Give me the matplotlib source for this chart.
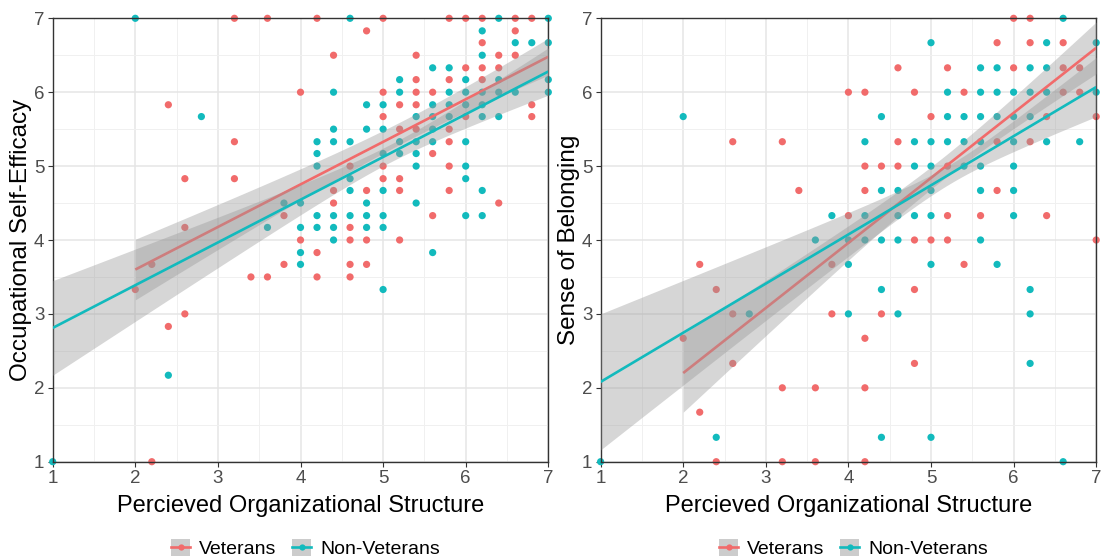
import numpy as np
import matplotlib
matplotlib.use("Agg")
import matplotlib.pyplot as plt
from matplotlib.patches import Rectangle
from matplotlib.lines import Line2D
from matplotlib.legend_handler import HandlerTuple
from matplotlib.ticker import MultipleLocator

plt.rcParams['font.family'] = ['Liberation Sans', 'DejaVu Sans']

# ---------------- data ----------------
groups = ["Veterans", "Non-Veterans"]
x_label = "Percieved Organizational Structure"
y_labels = ["Occupational Self-Efficacy", "Sense of Belonging"]
tick_values = [1, 2, 3, 4, 5, 6, 7]

# Panel 1: Occupational Self-Efficacy
ose_vet_x = [3.2, 3.6, 4.2, 5.0, 5.8, 6.0, 6.2, 6.6, 6.8, 4.8, 6.6, 6.2, 4.4, 5.4, 6.4, 6.6,
             6.0, 6.2, 6.4, 5.4, 5.8, 6.2, 4.0, 5.0, 5.4, 5.6, 2.4, 5.2, 5.4, 6.8, 5.0, 6.0, 6.8,
             5.2, 5.4, 5.8, 3.2, 5.8, 5.6, 4.6, 5.0, 5.8, 2.6, 3.2, 5.0, 5.2, 4.4, 4.8, 5.2, 5.8,
             4.4, 6.4, 3.8, 5.6, 2.6, 4.6, 4.0, 4.6, 4.8, 5.2, 4.2, 2.2, 3.8, 4.6, 4.8,
             3.4, 3.6, 4.2, 4.6, 2.0, 2.6, 2.4, 2.2]
ose_vet_y = [7, 7, 7, 7, 7, 7, 7, 7, 7, 6.83, 6.83, 6.67, 6.5, 6.5, 6.5, 6.5,
             6.33, 6.33, 6.33, 6.17, 6.17, 6.17, 6, 6, 6, 6, 5.83, 5.83, 5.83, 5.83, 5.67, 5.67, 5.67,
             5.5, 5.5, 5.5, 5.33, 5.33, 5.17, 5, 5, 5, 4.83, 4.83, 4.83, 4.83, 4.67, 4.67, 4.67, 4.67,
             4.5, 4.5, 4.33, 4.33, 4.17, 4.17, 4, 4, 4, 4, 3.83, 3.67, 3.67, 3.67, 3.67,
             3.5, 3.5, 3.5, 3.5, 3.33, 3.0, 2.83, 1.0]
ose_non_x = [2.0, 4.6, 6.4, 7.0, 6.2, 6.6, 6.8, 7.0, 6.2, 5.6, 5.8, 5.2, 6.0, 6.4, 7.0,
             4.4, 5.2, 5.8, 6.0, 6.2, 6.4, 6.6, 7.0, 4.8, 5.0, 5.6, 5.8, 6.0, 6.2,
             2.8, 5.4, 5.6, 5.8, 6.2, 6.4, 4.4, 4.8, 5.0, 5.6, 4.2, 4.4, 4.6, 5.2, 5.4, 5.6, 6.0,
             4.2, 5.0, 5.2, 5.4, 4.2, 5.4, 6.0, 4.6, 6.0, 4.6, 5.0, 6.2, 3.8, 4.0, 4.8, 5.4,
             4.2, 4.4, 4.6, 4.8, 5.0, 6.0, 6.2, 3.6, 4.0, 4.2, 4.4, 4.8, 5.0, 4.4, 4.0, 5.6,
             4.0, 5.0, 2.4, 1.0]
ose_non_y = [7, 7, 7, 7, 6.83, 6.67, 6.67, 6.67, 6.5, 6.33, 6.33, 6.17, 6.17, 6.17, 6.17,
             6, 6, 6, 6, 6, 6, 6, 6, 5.83, 5.83, 5.83, 5.83, 5.83, 5.83,
             5.67, 5.67, 5.67, 5.67, 5.67, 5.67, 5.5, 5.5, 5.5, 5.5, 5.33, 5.33, 5.33, 5.33, 5.33, 5.33, 5.33,
             5.17, 5.17, 5.17, 5.17, 5, 5, 5, 4.83, 4.83, 4.67, 4.67, 4.67, 4.5, 4.5, 4.5, 4.5,
             4.33, 4.33, 4.33, 4.33, 4.33, 4.33, 4.33, 4.17, 4.17, 4.17, 4.17, 4.17, 4.17, 4.0, 3.83, 3.83,
             3.67, 3.33, 2.17, 1.0]

# Panel 2: Sense of Belonging
sob_vet_x = [6.0, 6.2, 5.8, 6.2, 6.6, 4.6, 5.2, 6.0, 6.6, 6.8, 4.0, 4.2, 4.8, 5.4, 6.6, 6.8,
             5.0, 6.4, 7.0, 2.6, 3.2, 4.6, 5.8, 6.2, 4.2, 4.4, 4.6, 5.2, 3.4, 4.2, 5.8,
             4.0, 5.2, 5.6, 6.4, 4.8, 5.0, 5.2, 7.0, 2.2, 3.8, 5.4, 2.4, 4.8, 2.6, 3.8, 4.4,
             2.0, 4.2, 2.6, 4.8, 3.2, 3.6, 4.2, 2.2, 2.4, 3.2, 3.6, 4.2]
sob_vet_y = [7, 7, 6.67, 6.67, 6.67, 6.33, 6.33, 6.33, 6.33, 6.33, 6, 6, 6, 6, 6, 6,
             5.67, 5.67, 5.67, 5.33, 5.33, 5.33, 5.33, 5.33, 5, 5, 5, 5, 4.67, 4.67, 4.67,
             4.33, 4.33, 4.33, 4.33, 4, 4, 4, 4, 3.67, 3.67, 3.67, 3.33, 3.33, 3, 3, 3,
             2.67, 2.67, 2.33, 2.33, 2, 2, 2, 1.67, 1, 1, 1, 1]
sob_non_x = [6.6, 5.0, 6.4, 7.0, 5.6, 5.8, 6.2, 6.4, 5.2, 5.6, 5.8, 6.0, 6.2, 6.4, 7.0,
             2.0, 4.4, 5.2, 5.4, 5.6, 5.8, 6.0, 6.2, 4.2, 4.8, 5.0, 5.2, 5.4, 5.6, 6.0, 6.4, 6.8,
             4.8, 5.0, 5.4, 5.6, 6.0, 4.4, 4.6, 5.0, 5.6, 6.0, 3.8, 4.2, 4.6, 4.8, 5.0, 6.0,
             3.6, 4.0, 4.2, 4.4, 4.6, 5.6, 4.0, 5.0, 5.8, 4.4, 6.2, 2.8, 4.0, 4.6, 6.2,
             6.2, 2.4, 4.4, 5.0, 1.0, 6.6]
sob_non_y = [7, 6.67, 6.67, 6.67, 6.33, 6.33, 6.33, 6.33, 6, 6, 6, 6, 6, 6, 6,
             5.67, 5.67, 5.67, 5.67, 5.67, 5.67, 5.67, 5.67, 5.33, 5.33, 5.33, 5.33, 5.33, 5.33, 5.33, 5.33, 5.33,
             5, 5, 5, 5, 5, 4.67, 4.67, 4.67, 4.67, 4.67, 4.33, 4.33, 4.33, 4.33, 4.33, 4.33,
             4, 4, 4, 4, 4, 4, 3.67, 3.67, 3.67, 3.33, 3.33, 3, 3, 3, 3,
             2.33, 1.33, 1.33, 1.33, 1, 1]

# fitted lines: x range and fitted y at both ends
ose_vet_fit_x = [2, 7]
ose_vet_fit_y = [3.60, 6.48]
ose_non_fit_x = [1, 7]
ose_non_fit_y = [2.81, 6.28]
sob_vet_fit_x = [2, 7]
sob_vet_fit_y = [2.20, 6.60]
sob_non_fit_x = [1, 7]
sob_non_fit_y = [2.08, 6.07]
ose_vet_ci = [0.41, 0.15, 0.25]
ose_non_ci = [0.64, 0.12, 0.32]
sob_vet_ci = [0.53, 0.15, 0.35]
sob_non_ci = [0.92, 0.13, 0.40]

RED = '#F16B6B'
TEAL = '#12BABD'
colors = [RED, TEAL]


def band(fx, fy, ci):
    x0, x1 = fx
    hs, h0, he = ci
    r = np.sqrt((hs ** 2 - h0 ** 2) / (he ** 2 - h0 ** 2))
    xb = (x0 + r * x1) / (1 + r)
    k = np.sqrt(hs ** 2 - h0 ** 2) / (xb - x0)
    xs = np.linspace(x0, x1, 300)
    h = np.sqrt(h0 ** 2 + (k * (xs - xb)) ** 2)
    ys = np.interp(xs, fx, fy)
    return xs, ys, h


W, H = 1102, 558
fig = plt.figure(figsize=(W / 100, H / 100), dpi=100)
ax_l = fig.add_axes([52.7 / W, (H - 461.7) / H, 495.6 / W, 443.4 / H])
ax_r = fig.add_axes([600.6 / W, (H - 461.7) / H, 495.6 / W, 443.4 / H])

panels = [
    (ax_l, y_labels[0],
     [(ose_vet_x, ose_vet_y), (ose_non_x, ose_non_y)],
     [(ose_vet_fit_x, ose_vet_fit_y, ose_vet_ci), (ose_non_fit_x, ose_non_fit_y, ose_non_ci)]),
    (ax_r, y_labels[1],
     [(sob_vet_x, sob_vet_y), (sob_non_x, sob_non_y)],
     [(sob_vet_fit_x, sob_vet_fit_y, sob_vet_ci), (sob_non_fit_x, sob_non_fit_y, sob_non_ci)]),
]

for ax, ylab, pts, fits in panels:
    ax.set_xlim(1, 7)
    ax.set_ylim(1, 7)
    ax.xaxis.set_minor_locator(MultipleLocator(0.5))
    ax.yaxis.set_minor_locator(MultipleLocator(0.5))
    ax.set_xticks(tick_values)
    ax.set_yticks(tick_values)
    ax.grid(which='major', color='#E5E5E5', lw=1.1, zorder=0)
    ax.grid(which='minor', color='#F0F0F0', lw=0.7, zorder=0)
    ax.set_axisbelow(True)
    for s in ax.spines.values():
        s.set_color('#333333')
        s.set_linewidth(1.0)
    ax.tick_params(which='major', length=3.5, width=0.8, color='#333333',
                   labelsize=13.5, labelcolor='#4D4D4D', pad=2.5)
    ax.tick_params(which='minor', length=0)
    ax.set_xlabel(x_label, fontsize=17, labelpad=6)
    ax.set_ylabel(ylab, fontsize=17.5, labelpad=1.5)

    for (px, py), c in zip(pts, colors):
        ax.scatter(px, py, s=27, color=c, edgecolors='none', zorder=2, clip_on=False)
    z = 3
    for (fx, fy, ci), c in zip(fits, colors):
        xs, ys, h = band(fx, fy, ci)
        ax.fill_between(xs, ys - h, ys + h, color='#999999', alpha=0.4, lw=0, zorder=z)
        ax.plot(fx, fy, color=c, lw=1.9, zorder=z + 0.1, solid_capstyle='butt')
        z += 0.2

    handles = []
    for c in colors:
        p = Rectangle((0, 0), 1, 1, facecolor='#CCCCCC', edgecolor='none')
        l = Line2D([], [], color=c, lw=1.9, marker='o', markersize=4.5, markeredgewidth=0)
        handles.append((p, l))
    ax.legend(handles, groups, handler_map={tuple: HandlerTuple(ndivide=1)},
              loc='center', bbox_to_anchor=(0.51, -0.196), ncol=2, frameon=False,
              fontsize=14, handlelength=1.0, handleheight=1.0, handletextpad=0.45,
              columnspacing=0.8)

fig.savefig('out.png', dpi=100)
